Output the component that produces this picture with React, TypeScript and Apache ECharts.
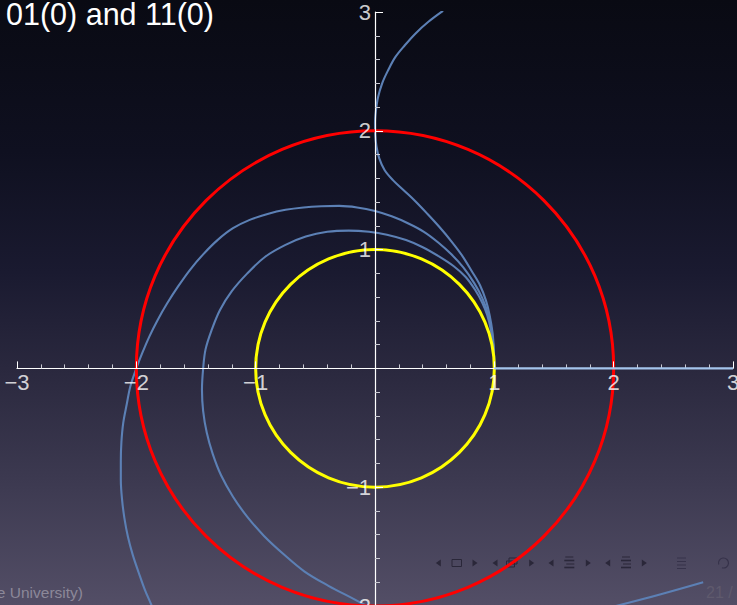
import React, { useEffect, useRef } from 'react';
import * as echarts from 'echarts';

// ---------- data ----------
const titleText = '01(0) and 11(0)';
const footerLeftText = 'e University)';
const footerRightText = '21 / 30';

const xTickValues = [-3, -2, -1, 1, 2, 3];
const xTickLabels = ['−3', '−2', '−1', '1', '2', '3'];
const yTickValues = [-2, -1, 1, 2, 3];
const yTickLabels = ['−2', '−1', '1', '2', '3'];

const outerCircleRadius = [2];
const innerCircleRadius = [1];

// trajectory reaching the y-axis near (0,2) and leaving upward
const trajectoryA = [
  [1, 0], [0.996, 0.15], [0.985, 0.3], [0.96, 0.45], [0.93, 0.57], [0.88, 0.7], [0.81, 0.82],
  [0.73, 0.95], [0.64, 1.07], [0.54, 1.19], [0.44, 1.3], [0.34, 1.405], [0.24, 1.5],
  [0.15, 1.585], [0.08, 1.67], [0.035, 1.77], [0.012, 1.87], [0.002, 1.97], [0.0, 2.07],
  [0.008, 2.17], [0.025, 2.28], [0.06, 2.4], [0.11, 2.51], [0.17, 2.62], [0.25, 2.72],
  [0.34, 2.82], [0.45, 2.92], [0.57, 3.01],
];

// outer arc through (-2, 0)
const trajectoryB = [
  [1, 0], [0.995, 0.15], [0.98, 0.3], [0.95, 0.45], [0.9, 0.59], [0.83, 0.72], [0.74, 0.85],
  [0.64, 0.96], [0.53, 1.06], [0.41, 1.15], [0.28, 1.22], [0.14, 1.28], [0, 1.325],
  [-0.15, 1.355], [-0.3, 1.368], [-0.45, 1.365], [-0.6, 1.355], [-0.75, 1.335], [-0.9, 1.3],
  [-1.05, 1.25], [-1.19, 1.18], [-1.32, 1.08], [-1.44, 0.96], [-1.55, 0.83], [-1.65, 0.69],
  [-1.74, 0.55], [-1.82, 0.41], [-1.89, 0.27], [-1.95, 0.13], [-2.0, 0.0], [-2.05, -0.15],
  [-2.08, -0.3], [-2.11, -0.46], [-2.125, -0.62], [-2.13, -0.78], [-2.13, -0.94],
  [-2.12, -1.1], [-2.1, -1.26], [-2.07, -1.42], [-2.03, -1.57], [-1.98, -1.72],
  [-1.93, -1.86], [-1.87, -2.0], [-1.86, -2.03],
];

// inner arc through (-1.44, 0)
const trajectoryC = [
  [1, 0], [0.998, 0.08], [0.99, 0.2], [0.97, 0.33], [0.94, 0.45], [0.9, 0.55], [0.84, 0.66],
  [0.76, 0.77], [0.66, 0.86], [0.54, 0.94], [0.4, 1.02], [0.26, 1.08], [0.1, 1.125],
  [-0.05, 1.15], [-0.22, 1.16], [-0.4, 1.15], [-0.58, 1.11], [-0.75, 1.04], [-0.92, 0.94],
  [-1.07, 0.8], [-1.2, 0.65], [-1.3, 0.49], [-1.37, 0.32], [-1.42, 0.16], [-1.44, 0.0],
  [-1.45, -0.18], [-1.44, -0.36], [-1.41, -0.54], [-1.36, -0.72], [-1.29, -0.9],
  [-1.19, -1.08], [-1.07, -1.25], [-0.93, -1.41], [-0.77, -1.56], [-0.59, -1.71],
  [-0.39, -1.83], [-0.18, -1.94], [-0.05, -2.01],
];

// trajectory along the positive x-axis
const trajectoryD = [[1, 0], [3, 0]];

// piece entering at the lower right
const trajectoryE = [[1.98, -2.01], [2.38, -1.905], [2.75, -1.8]];

// ---------- helpers ----------
const FONT = 'Liberation Sans, Arial, sans-serif';

const circleSeries = (radii: number[], color: string, z: number) => ({
  type: 'custom',
  coordinateSystem: 'cartesian2d',
  silent: true,
  z,
  data: radii.map((r) => [r, 0]),
  renderItem: (_params: any, api: any) => {
    const r = api.value(0);
    const c = api.coord([0, 0]);
    const s = api.size([r, r]);
    return {
      type: 'ellipse',
      shape: { cx: c[0], cy: c[1], rx: s[0], ry: s[1] },
      style: { fill: 'none', stroke: color, lineWidth: 3 },
    };
  },
});

const blueLine = (data: number[][], color = '#5c80b5', width = 2.1, z = 3) => ({
  type: 'line',
  data,
  symbol: 'none',
  showSymbol: false,
  smooth: 0.35,
  silent: true,
  z,
  lineStyle: { color, width },
});

const tickLabelSeries = (values: number[], labels: string[], isX: boolean) => ({
  type: 'scatter',
  data: values.map((v) => (isX ? [v, 0] : [0, v])),
  symbolSize: 0,
  silent: true,
  clip: false,
  z: 20,
  label: {
    show: true,
    position: isX ? 'bottom' : 'left',
    distance: isX ? 3 : 4,
    formatter: (p: any) => labels[p.dataIndex],
    color: '#ffffff',
    fontSize: 22,
    fontFamily: FONT,
  },
});

const NAV = '#2a2739';
const NAV2 = '#36324a';
const NY = 563;
const triL = (x: number, c = NAV) => ({
  type: 'polygon',
  shape: { points: [[x + 2.5, NY - 3.5], [x + 2.5, NY + 3.5], [x - 2.5, NY]] },
  style: { fill: c },
});
const triR = (x: number, c = NAV) => ({
  type: 'polygon',
  shape: { points: [[x - 2.5, NY - 3.5], [x - 2.5, NY + 3.5], [x + 2.5, NY]] },
  style: { fill: c },
});
const hline = (x1: number, x2: number, y: number, w: number, c = NAV) => ({
  type: 'line',
  shape: { x1, y1: y, x2, y2: y },
  style: { stroke: c, lineWidth: w },
});
const stackIcon = (cx: number, c = NAV) => [
  hline(cx - 4, cx + 4, NY - 6, 1, c),
  hline(cx - 5, cx + 5, NY - 2.5, 1.6, c),
  hline(cx - 3, cx + 5, NY + 1, 1, c),
  hline(cx - 5, cx + 5, NY + 4.5, 1.6, c),
];

const axisCommon = {
  type: 'value',
  interval: 1,
  z: 10,
  splitLine: { show: false },
  minorSplitLine: { show: false },
  axisLabel: { show: false },
};

export default function App() {
  const ref = useRef<HTMLDivElement>(null);

  useEffect(() => {
    if (!ref.current) return;
    const chart = echarts.init(ref.current, null, { renderer: 'svg' });

    chart.setOption({
      animation: false,
      backgroundColor: 'transparent',
      grid: { left: 17, top: 12, width: 716, height: 594, containLabel: false, outerBoundsMode: 'none' },
      xAxis: {
        ...axisCommon,
        min: -3,
        max: 3,
        axisLine: { onZero: true, lineStyle: { color: '#ffffff', width: 1.2 } },
        axisTick: { inside: true, length: 7, lineStyle: { color: '#ffffff', width: 1 } },
        minorTick: { show: true, splitNumber: 5, length: 4, lineStyle: { color: '#c9c9d2', width: 1 } },
      },
      yAxis: {
        ...axisCommon,
        min: -2,
        max: 3,
        axisLine: { onZero: true, lineStyle: { color: '#ffffff', width: 1.2 } },
        axisTick: { inside: true, length: 8, lineStyle: { color: '#ffffff', width: 1 } },
        minorTick: { show: true, splitNumber: 5, length: 5, lineStyle: { color: '#c9c9d2', width: 1 } },
      },
      series: [
        blueLine(trajectoryA),
        blueLine(trajectoryB),
        blueLine(trajectoryC),
        blueLine(trajectoryE),
        circleSeries(outerCircleRadius, '#ff0000', 5),
        circleSeries(innerCircleRadius, '#ffff00', 5),
        blueLine(trajectoryD, '#a4c4ec', 2.4, 11),
        tickLabelSeries(xTickValues, xTickLabels, true),
        tickLabelSeries(yTickValues, yTickLabels, false),
      ],
      graphic: [
        {
          type: 'text',
          x: 6,
          y: 14,
          z: 20,
          style: {
            text: titleText,
            fill: '#ffffff',
            font: '30.5px "Liberation Sans", Arial, sans-serif',
            textAlign: 'left',
            textVerticalAlign: 'middle',
          },
        },
        {
          type: 'text',
          x: 83,
          y: 592,
          z: 20,
          style: {
            text: footerLeftText,
            fill: '#8c8899',
            font: '15.5px "Liberation Sans", Arial, sans-serif',
            textAlign: 'right',
            textVerticalAlign: 'middle',
          },
        },
        {
          type: 'text',
          x: 706,
          y: 592,
          z: 20,
          style: {
            text: footerRightText,
            fill: '#5f5a6d',
            font: '16px "Liberation Sans", Arial, sans-serif',
            textAlign: 'left',
            textVerticalAlign: 'middle',
          },
        },
        {
          type: 'group',
          z: 20,
          children: [
            triL(438.3),
            { type: 'rect', shape: { x: 452, y: NY - 3.5, width: 9.5, height: 7 }, style: { fill: 'none', stroke: NAV, lineWidth: 1 } },
            triR(475),
            triL(495),
            { type: 'rect', shape: { x: 506.5, y: NY - 2, width: 8, height: 6 }, style: { fill: 'none', stroke: NAV, lineWidth: 1 } },
            { type: 'rect', shape: { x: 509, y: NY - 5, width: 8, height: 6 }, style: { fill: 'none', stroke: NAV, lineWidth: 1 } },
            triR(531.7),
            triL(551),
            ...stackIcon(569.3),
            triR(588.3),
            triL(607.7),
            ...stackIcon(626),
            triR(644.3),
            hline(677, 686, NY - 5, 1, NAV2),
            hline(677, 686, NY - 1.5, 1, NAV2),
            hline(677, 686, NY + 2, 1, NAV2),
            hline(677, 686, NY + 5.5, 1, NAV2),
            {
              type: 'arc',
              shape: { cx: 723.5, cy: NY, r: 5, startAngle: Math.PI * 0.9, endAngle: Math.PI * 2.6 },
              style: { fill: 'none', stroke: NAV2, lineWidth: 1.2 },
            },
          ],
        },
      ],
    });

    return () => chart.dispose();
  }, []);

  return (
    <div
      ref={ref}
      style={{
        position: 'absolute',
        left: 0,
        top: 0,
        width: 737,
        height: 605,
        overflow: 'hidden',
        background:
          'linear-gradient(to bottom, #090a13 0%, #0f1020 25%, #1a1a30 45%, #2b293f 62%, #3d3a51 80%, #534e66 100%)',
      }}
    />
  );
}
